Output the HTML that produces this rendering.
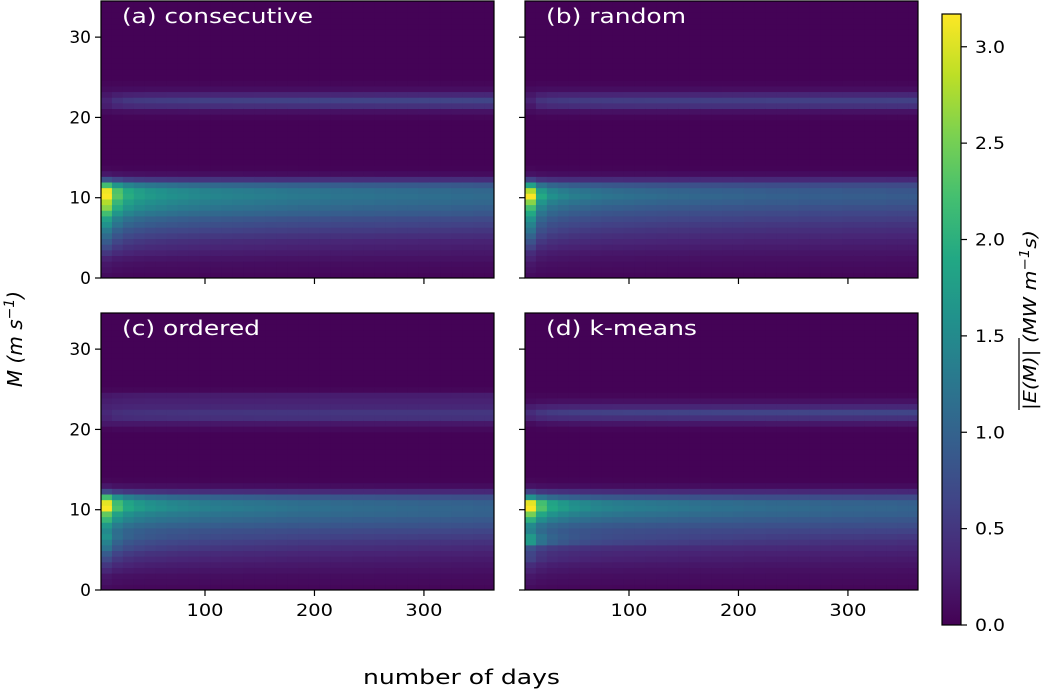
<!DOCTYPE html>
<html><head><meta charset="utf-8"><style>
body{margin:0;background:#fff;}
svg{display:block;font-family:"DejaVu Sans","Liberation Sans",sans-serif;}
</style></head><body>
<svg id="chart" width="1044" height="691" viewBox="0 0 1044 691" xmlns="http://www.w3.org/2000/svg" style="position:absolute;left:0;top:0"></svg>
<script>
// ---- data ----
const panelTitles = ["(a) consecutive","(b) random","(c) ordered","(d) k-means"];
const titleWidths = [191,140,138,151];
const xTicks = [100,200,300];
const yTicks = [0,10,20,30];
const cbTicks = [0,0.5,1,1.5,2,2.5,3];
const nCols = 36, nRows = 49, dayStart = 5, dayStep = 10, mStep = 0.704;
// early (first column) and late row profiles, rows from M=0 upward
const earlyA = [0.1,0.15,0.2,0.3,0.5,0.7,0.9,1.1,1.3,1.6,1.8,2.2,2.6,2.8,3.15,3.1,2.2,0.8,0.2,0.05,0.02,0.02,0.02,0.02,0.02,0.02,0.02,0.02,0.03,0.1,0.25,0.3,0.2,0.1,0.05,0.02,0.02,0.02,0.02,0.02,0.02,0.02,0.02,0.02,0.02,0.02,0.02,0.02,0.02];
const lateA  = [0.05,0.08,0.1,0.15,0.2,0.25,0.3,0.4,0.5,0.6,0.7,0.85,0.95,1.05,1.1,1.05,0.85,0.4,0.1,0.03,0.02,0.02,0.02,0.02,0.02,0.02,0.02,0.02,0.05,0.15,0.45,0.65,0.35,0.12,0.05,0.02,0.02,0.02,0.02,0.02,0.02,0.02,0.02,0.02,0.02,0.02,0.02,0.02,0.02];
const decayA = [1,0.6,0.42,0.34,0.29,0.26,0.23,0.21,0.19,0.17,0.16,0.15,0.14,0.13,0.12,0.11,0.1,0.09,0.08,0.08,0.07,0.06,0.06,0.05,0.05,0.04,0.04,0.03,0.03,0.02,0.02,0.02,0.01,0.01,0,0];
const earlyB = [0.1,0.15,0.2,0.3,0.4,0.6,0.8,1.0,1.2,1.4,1.6,1.9,2.2,2.6,3.15,2.8,1.8,0.6,0.15,0.05,0.02,0.02,0.02,0.02,0.02,0.02,0.02,0.02,0.03,0.1,0.2,0.3,0.2,0.1,0.04,0.02,0.02,0.02,0.02,0.02,0.02,0.02,0.02,0.02,0.02,0.02,0.02,0.02,0.02];
const lateB  = [0.05,0.08,0.1,0.13,0.17,0.22,0.27,0.33,0.4,0.48,0.56,0.65,0.75,0.85,0.9,0.85,0.7,0.35,0.1,0.03,0.02,0.02,0.02,0.02,0.02,0.02,0.02,0.02,0.05,0.15,0.45,0.6,0.35,0.12,0.05,0.02,0.02,0.02,0.02,0.02,0.02,0.02,0.02,0.02,0.02,0.02,0.02,0.02,0.02];
const decayB = [1,0.45,0.3,0.24,0.2,0.18,0.16,0.14,0.13,0.12,0.11,0.1,0.09,0.08,0.08,0.07,0.06,0.06,0.05,0.05,0.04,0.04,0.03,0.03,0.03,0.02,0.02,0.02,0.02,0.01,0.01,0.01,0.01,0,0,0];
const earlyC = [0.1,0.15,0.2,0.35,0.5,0.7,0.9,1.2,1.4,1.6,1.5,1.7,2.1,2.4,3.15,3.05,2.2,0.7,0.2,0.05,0.02,0.02,0.02,0.02,0.02,0.02,0.02,0.02,0.05,0.2,0.3,0.35,0.3,0.25,0.2,0.05,0.02,0.02,0.02,0.02,0.02,0.02,0.02,0.02,0.02,0.02,0.02,0.02,0.02];
const lateC  = [0.05,0.08,0.1,0.14,0.18,0.23,0.28,0.36,0.45,0.55,0.65,0.78,0.88,0.98,1.0,0.95,0.75,0.35,0.1,0.03,0.02,0.02,0.02,0.02,0.02,0.02,0.02,0.02,0.08,0.2,0.45,0.5,0.35,0.3,0.25,0.05,0.02,0.02,0.02,0.02,0.02,0.02,0.02,0.02,0.02,0.02,0.02,0.02,0.02];
const decayC = [1,0.58,0.42,0.34,0.29,0.26,0.23,0.21,0.19,0.17,0.16,0.15,0.14,0.13,0.12,0.11,0.1,0.09,0.08,0.08,0.07,0.06,0.06,0.05,0.05,0.04,0.04,0.03,0.03,0.02,0.02,0.02,0.01,0.01,0,0];
const earlyD = [0.1,0.15,0.2,0.3,0.4,0.6,0.65,0.8,1.7,1.7,1.4,1.5,2.0,2.5,3.15,3.05,1.6,0.6,0.15,0.05,0.02,0.02,0.02,0.02,0.02,0.02,0.02,0.02,0.03,0.1,0.3,0.4,0.25,0.1,0.05,0.02,0.02,0.02,0.02,0.02,0.02,0.02,0.02,0.02,0.02,0.02,0.02,0.02,0.02];
const lateD  = [0.05,0.08,0.1,0.13,0.17,0.22,0.27,0.34,0.42,0.52,0.62,0.74,0.85,0.95,1.0,0.95,0.7,0.35,0.1,0.03,0.02,0.02,0.02,0.02,0.02,0.02,0.02,0.02,0.05,0.2,0.45,0.65,0.35,0.15,0.05,0.02,0.02,0.02,0.02,0.02,0.02,0.02,0.02,0.02,0.02,0.02,0.02,0.02,0.02];
const decayD = [1,0.6,0.42,0.34,0.28,0.24,0.21,0.19,0.17,0.16,0.15,0.14,0.13,0.12,0.11,0.1,0.09,0.08,0.08,0.07,0.06,0.06,0.05,0.05,0.04,0.04,0.03,0.03,0.02,0.02,0.02,0.01,0.01,0.01,0,0];
const panelEarly = [earlyA,earlyB,earlyC,earlyD];
const panelLate = [lateA,lateB,lateC,lateD];
const panelDecay = [decayA,decayB,decayC,decayD];

// ---- layout ----
const NS="http://www.w3.org/2000/svg";
const svg=document.getElementById('chart');
const vmax=3.17;
const boxes=[{x0:101,x1:494,y0:1,y1:278},{x0:525,x1:918,y0:1,y1:278},{x0:101,x1:494,y0:313,y1:590},{x0:525,x1:918,y0:313,y1:590}];
const xMin=5,xMax=364,yMin=0,yMax=34.5;
const vir=[[68,1,84],[72,36,117],[65,68,135],[53,95,141],[42,120,142],[33,145,140],[34,168,132],[68,191,112],[122,209,81],[189,223,38],[253,231,37]];
function color(v){let t=Math.max(0,Math.min(1,v/vmax))*(vir.length-1);let i=Math.min(Math.floor(t),vir.length-2);let f=t-i;const c=vir[i].map((a,k)=>Math.round(a+(vir[i+1][k]-a)*f));return `rgb(${c[0]},${c[1]},${c[2]})`;}
function mk(tag,attrs,parent){const e=document.createElementNS(NS,tag);for(const k in attrs)e.setAttribute(k,attrs[k]);(parent||svg).appendChild(e);return e;}

boxes.forEach((b,p)=>{
  const sx=d=>b.x0+(d-xMin)/(xMax-xMin)*(b.x1-b.x0);
  const sy=m=>b.y1-(m-yMin)/(yMax-yMin)*(b.y1-b.y0);
  const cp=mk('clipPath',{id:'clip'+p});mk('rect',{x:b.x0,y:b.y0,width:b.x1-b.x0,height:b.y1-b.y0},cp);
  const g=mk('g',{'clip-path':`url(#clip${p})`});
  
  
  const E=panelEarly[p],L=panelLate[p],D=panelDecay[p];
  for(let c=0;c<nCols;c++){
    const xa=sx(dayStart+c*dayStep)-(c===0?10:0),xb=sx(dayStart+(c+1)*dayStep);
    for(let r=0;r<nRows;r++){
      const v=L[r]+(E[r]-L[r])*D[c];
      const ya=sy((r+1)*mStep),yb=sy(r*mStep);
      const rc=mk('rect',{x:xa.toFixed(2),y:ya.toFixed(2),width:(xb-xa+0.6).toFixed(2),height:(yb-ya+0.6).toFixed(2),fill:color(v)},g);
      
      
    }
  }
  const fr=mk('rect',{x:b.x0,y:b.y0,width:b.x1-b.x0,height:b.y1-b.y0,fill:'none',stroke:'#000','stroke-width':1.2});
  
  
  const t=mk('text',{x:b.x0+21,y:b.y0+22,fill:'#fff','font-size':'20',textLength:titleWidths[p],lengthAdjust:'spacingAndGlyphs'});t.textContent=panelTitles[p];
  
  
  xTicks.forEach(v=>{const x=sx(v);mk('line',{x1:x,x2:x,y1:b.y1,y2:b.y1+6,stroke:'#000','stroke-width':1.2});
    if(p>=2){const tl=mk('text',{x:x,y:b.y1+26,'text-anchor':'middle','font-size':'17',textLength:37,lengthAdjust:'spacingAndGlyphs'});tl.textContent=v;
      
      }});
  yTicks.forEach(v=>{const y=sy(v);mk('line',{x1:b.x0-6,x2:b.x0,y1:y,y2:y,stroke:'#000','stroke-width':1.2});
    if(p%2===0){const tl=mk('text',{x:b.x0-10,y:y+6,'text-anchor':'end','font-size':'17'});tl.textContent=v;
      
      }});
});
// colorbar
const cb={x0:942,x1:961,y0:14,y1:625};
const cbs=v=>cb.y1-v/vmax*(cb.y1-cb.y0);
const defs=mk('defs',{});const lg=mk('linearGradient',{id:'vg',x1:0,y1:1,x2:0,y2:0},defs);
vir.forEach((c,i)=>mk('stop',{offset:i/(vir.length-1),'stop-color':`rgb(${c[0]},${c[1]},${c[2]})`},lg));
const cbr=mk('rect',{x:cb.x0,y:cb.y0,width:cb.x1-cb.x0,height:cb.y1-cb.y0,fill:'url(#vg)',stroke:'#000','stroke-width':1.2});


cbTicks.forEach(v=>{const y=cbs(v);mk('line',{x1:cb.x1,x2:cb.x1+6,y1:y,y2:y,stroke:'#000','stroke-width':1.2});
  const tl=mk('text',{x:cb.x1+14,y:y+6,'font-size':'17',textLength:30,lengthAdjust:'spacingAndGlyphs'});tl.textContent=v.toFixed(1);
  
  });
</script>
<svg width="1044" height="691" style="position:absolute;left:0;top:0" font-family="DejaVu Sans, Liberation Sans, sans-serif">
<text x="363" y="684" font-size="20" textLength="197" lengthAdjust="spacingAndGlyphs">number of days</text>
<text transform="translate(22,339) rotate(-90)" text-anchor="middle" font-size="20" font-style="italic">M (m s<tspan dy="-8" font-size="14">−1</tspan><tspan dy="8">)</tspan></text>
<g transform="translate(1036,320) rotate(-90)">
<text text-anchor="middle" font-size="18" font-style="italic" textLength="180" lengthAdjust="spacingAndGlyphs">|E(M)| (MW m<tspan dy="-7" font-size="13">−1</tspan><tspan dy="7">s)</tspan></text>
<line x1="-90" x2="-18" y1="-17" y2="-17" stroke="#000" stroke-width="1.2"/>
</g>
</svg>
</body></html>
